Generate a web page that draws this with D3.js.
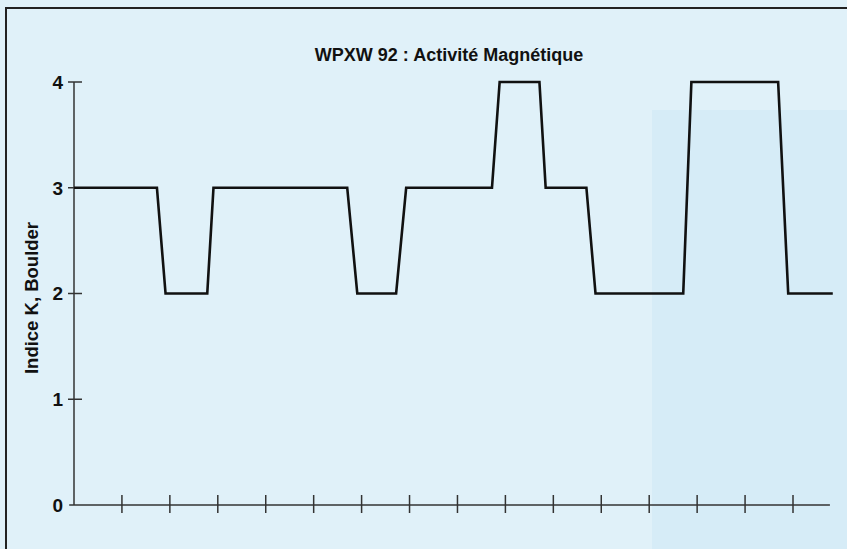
<!DOCTYPE html>
<meta charset="utf-8">
<title>WPXW 92 : Activité Magnétique</title>
<style>
body { margin: 0; background: #e0f1f9; }
svg { display: block; font-family: "Liberation Sans", Arial, sans-serif; }
.line { fill: none; stroke: #111; stroke-width: 2.6; stroke-linejoin: miter; }
.axis path, .axis line { stroke: #333; stroke-width: 1.5; }
.axis text { font-size: 19px; font-weight: bold; fill: #111; }
</style>
<body>
<script src="https://d3js.org/d3.v7.min.js"></script>
<script>

// K index: time (in tick units) and level
var times  = [0, 1.73, 1.91, 2.78, 2.91, 5.70, 5.91, 6.72, 6.93, 8.72, 8.88, 9.71, 9.84, 10.69, 10.88, 12.71, 12.88, 14.69, 14.90, 15.83];
var kIndex = [3, 3,    2,    2,    3,    3,    2,    2,    3,    3,    4,    4,    3,    3,     2,     2,     4,     4,     2,     2];
var yTicks = [0, 1, 2, 3, 4];
var xTicks = d3.range(1, 16);

var width = 847, height = 549;

var svg = d3.select("body").append("svg")
    .attr("width", width)
    .attr("height", height);

// faint bleed-through panel on the right of the scan
svg.append("rect")
    .attr("x", 652).attr("y", 110)
    .attr("width", 195).attr("height", 439)
    .attr("fill", "#d6ecf7");

// frame (left and top edges visible in the scan)
svg.append("path")
    .attr("d", "M6,549V8H847")
    .attr("fill", "none")
    .attr("stroke", "#222")
    .attr("stroke-width", 2);

var x = d3.scaleLinear().domain([0, 15]).range([74, 793]);
var y = d3.scaleLinear().domain([0, 4]).range([505, 82]);

// x axis: line from just left of origin, small crossing ticks
var xa = svg.append("g").attr("class", "axis");
xa.append("line")
    .attr("x1", x(-0.1)).attr("x2", x(15.77))
    .attr("y1", y(0)).attr("y2", y(0));
xa.selectAll(".xt")
    .data(xTicks)
  .enter().append("line")
    .attr("class", "xt")
    .attr("x1", function(d) { return x(d); })
    .attr("x2", function(d) { return x(d); })
    .attr("y1", y(0) - 10)
    .attr("y2", y(0) + 8);

// y axis
var ya = svg.append("g").attr("class", "axis");
ya.append("line")
    .attr("x1", x(0)).attr("x2", x(0))
    .attr("y1", y(4)).attr("y2", y(0));
ya.selectAll(".yt")
    .data(yTicks.filter(function(d) { return d > 0; }))
  .enter().append("line")
    .attr("class", "yt")
    .attr("x1", x(0) - 6)
    .attr("x2", x(0) + 8)
    .attr("y1", function(d) { return y(d); })
    .attr("y2", function(d) { return y(d); });
ya.selectAll("text")
    .data(yTicks)
  .enter().append("text")
    .attr("x", x(0) - 11)
    .attr("y", function(d) { return y(d); })
    .attr("dy", "0.36em")
    .attr("text-anchor", "end")
    .text(function(d) { return d; });

// K index line
var line = d3.line()
    .x(function(d, i) { return x(times[i]); })
    .y(function(d) { return y(d); });

svg.append("path")
    .datum(kIndex)
    .attr("class", "line")
    .attr("d", line);

// title
svg.append("text")
    .attr("x", 449)
    .attr("y", 61)
    .attr("text-anchor", "middle")
    .style("font-size", "18px")
    .style("font-weight", "bold")
    .style("fill", "#111")
    .text("WPXW 92 : Activité Magnétique");

// y label
svg.append("text")
    .attr("transform", "translate(38,298) rotate(-90)")
    .attr("text-anchor", "middle")
    .style("font-size", "18.5px")
    .style("font-weight", "bold")
    .style("fill", "#111")
    .text("Indice K, Boulder");

</script>
</body>
